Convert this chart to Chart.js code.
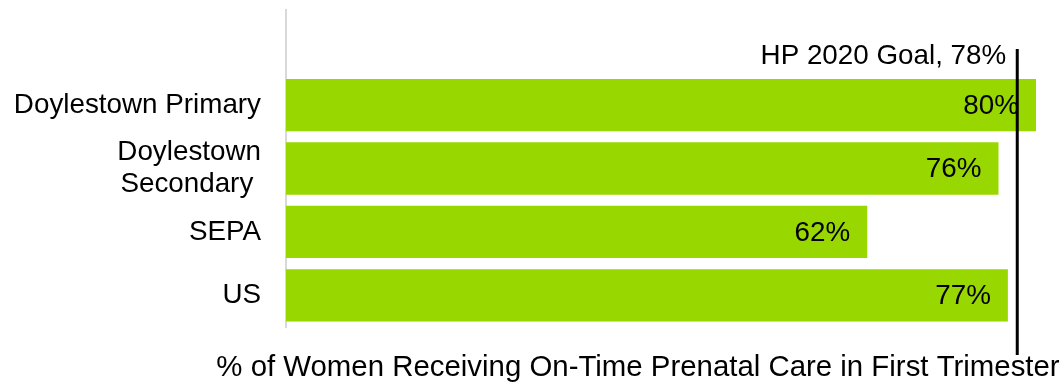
<!DOCTYPE html>
<html>
<head>
<meta charset="utf-8">
<script src="https://cdn.jsdelivr.net/npm/chart.js@4/dist/chart.umd.min.js"></script>
<style>
  html, body { margin: 0; padding: 0; background: #ffffff; }
  #wrap { width: 1064px; height: 383px; }
</style>
</head>
<body>
<div id="wrap"><canvas id="c" width="1064" height="383"></canvas></div>
<script>
// Share of women receiving prenatal care in the first trimester
const categories = ["Doylestown Primary", ["Doylestown", "Secondary "], "SEPA", "US"];
const values = [80, 76, 62, 77];
const goalValue = 78;
const goalLabel = "HP 2020 Goal, 78%";
const axisTitle = "% of Women Receiving On-Time Prenatal Care in First Trimester";

const FONT = "'Liberation Sans', Arial, sans-serif";
const FONT_SIZE = 27.8;
const TITLE_SIZE = 29.4;
const BAR_COLOR = "#98d700";

// an empty leading row leaves room for the goal label above the bars
const labels = [""].concat(categories);
const data = [null].concat(values);

const overlay = {
  id: "overlay",
  afterDatasetsDraw(chart) {
    const ctx = chart.ctx;
    const xs = chart.scales.x;
    const area = chart.chartArea;
    const meta = chart.getDatasetMeta(0);
    ctx.save();
    // value labels inside the bar ends
    ctx.font = FONT_SIZE + "px " + FONT;
    ctx.fillStyle = "#000000";
    ctx.textAlign = "right";
    ctx.textBaseline = "middle";
    meta.data.forEach((bar, i) => {
      const v = data[i];
      if (v == null) return;
      ctx.fillText(v + "%", bar.x - 17, bar.y + 1);
    });
    // goal line
    const gx = xs.getPixelForValue(goalValue);
    ctx.strokeStyle = "#000000";
    ctx.lineWidth = 3;
    ctx.beginPath();
    ctx.moveTo(gx, area.top + 39);
    ctx.lineTo(gx, area.bottom + 28);
    ctx.stroke();
    ctx.fillText(goalLabel, gx - 11, area.top + 46);
    // axis title
    ctx.font = TITLE_SIZE + "px " + FONT;
    ctx.textAlign = "center";
    ctx.fillText(axisTitle, 638, 368);
    ctx.restore();
  }
};

new Chart(document.getElementById("c"), {
  type: "bar",
  data: {
    labels: labels,
    datasets: [{
      data: data,
      backgroundColor: BAR_COLOR,
      borderWidth: 0,
      categoryPercentage: 1,
      barPercentage: 0.825
    }]
  },
  options: {
    indexAxis: "y",
    responsive: false,
    animation: false,
    devicePixelRatio: 1,
    layout: { padding: { left: 0, right: 28, top: 10, bottom: 56 } },
    plugins: { legend: { display: false }, tooltip: { enabled: false } },
    scales: {
      x: { min: 0, max: 80, display: false },
      y: {
        grid: { display: false, drawTicks: false },
        border: { display: true, color: "#d9d9d9", width: 2 },
        ticks: {
          color: "#000000",
          padding: 25,
          autoSkip: false,
          font: { family: FONT, size: FONT_SIZE, lineHeight: 1.16 }
        },
        afterFit(scale) {
          scale.width = 286;
          scale.paddingTop = 0;
          scale.paddingBottom = 0;
        }
      }
    }
  },
  plugins: [overlay]
});
</script>
</body>
</html>
